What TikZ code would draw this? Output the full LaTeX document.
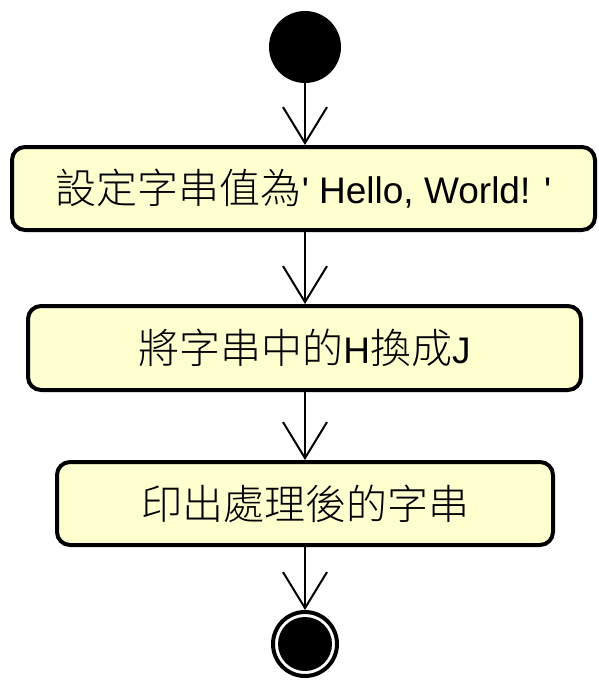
\documentclass[tikz,border=0pt]{standalone}
\usepackage{fontspec}
\newfontfamily\cjk{Noto Sans CJK TC}[UprightFont={* Light}]
\newfontfamily\lat{Liberation Sans}
\usetikzlibrary{arrows.meta}
\definecolor{actfill}{HTML}{FEFECE}
\tikzset{
  actbox/.style={draw=black, line width=4pt, fill=actfill, rounded corners=13pt, inner sep=0pt, anchor=center},
  flow/.style={line width=1.5pt, -{Straight Barb[length=36pt,width=44pt,line width=2pt]}},
}
\newcommand{\cj}[1]{{\cjk\fontsize{41}{41}\selectfont #1}}
\newcommand{\la}[1]{{\lat\fontsize{37}{37}\selectfont #1}}
\begin{document}
\begin{tikzpicture}[x=1pt,y=-1pt]
\useasboundingbox (0,0) rectangle (599,682);
\node[circle, fill=black, minimum size=72pt, inner sep=0pt] (start) at (305,47) {};
\node[actbox, minimum width=583pt, minimum height=83pt] (b1) at (303.5,188.5) {\cj{設定字串值為}\la{' Hello, World! '}};
\node[actbox, minimum width=553pt, minimum height=84pt] (b2) at (304.5,348) {\cj{將字串中的}\la{H}\cj{換成}\la{J}};
\node[actbox, minimum width=496pt, minimum height=83pt] (b3) at (305,503.5) {\cj{印出處理後的字串}};
\node[circle, draw=black, line width=4pt, fill=white, minimum size=64pt, inner sep=0pt] (end) at (305,644) {};
\node[circle, fill=black, minimum size=54pt, inner sep=0pt] (endin) at (end.center) {};
\draw[flow] (start.south) -- (start.south |- b1.north);
\draw[flow] (b1.south -| start) -- (b2.north -| start);
\draw[flow] (b2.south -| start) -- (b3.north -| start);
\draw[flow] (b3.south -| start) -- (end.north);
\end{tikzpicture}
\end{document}
